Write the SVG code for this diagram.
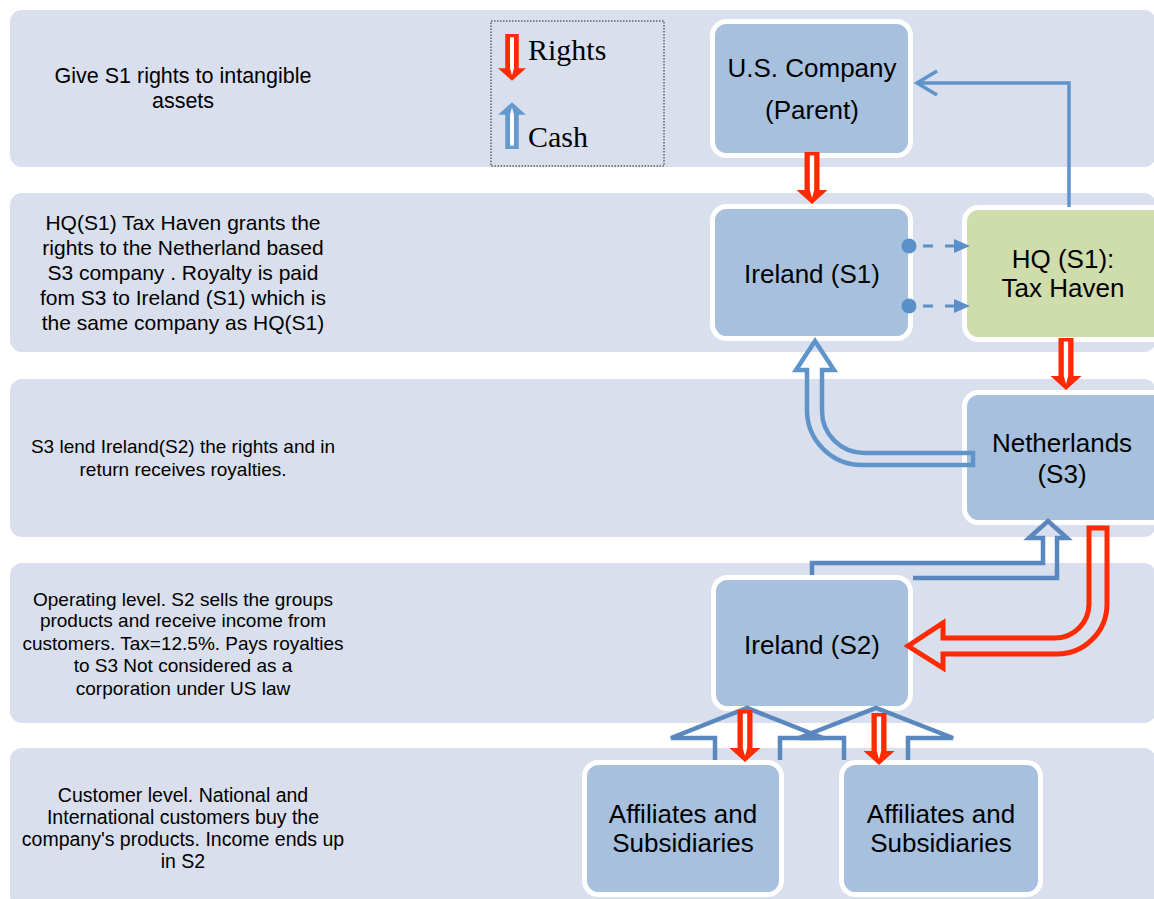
<svg xmlns="http://www.w3.org/2000/svg" width="1154" height="899" viewBox="0 0 1154 899">
  <style>
    .band { fill: #D9DFEC; }
    .band-text { font-family: "Liberation Sans", Arial, sans-serif; fill: #000; text-anchor: middle; }
    .node-box { fill: #A7C0DE; stroke: #FFFFFF; stroke-width: 5; }
    .node-green { fill: #CFDCAB; stroke: #FFFFFF; stroke-width: 5; }
    .node-text { font-family: "Liberation Sans", Arial, sans-serif; font-size: 26px; fill: #000; text-anchor: middle; }
    .legend-text { font-family: "Liberation Serif", "Times New Roman", serif; font-size: 30px; fill: #000; }
    .cash { fill: none; stroke: #5F94CA; stroke-width: 4.5; stroke-linejoin: miter; }
    .cash-low { fill: none; stroke: #5A88BE; stroke-width: 4.5; stroke-linejoin: miter; }
    .royalty { fill: none; stroke: #FF2A00; stroke-width: 5; stroke-linejoin: miter; }
    .link { fill: none; stroke: #5F94CA; stroke-width: 3.5; }
    .dashed { fill: none; stroke: #5B8FC7; stroke-width: 3; stroke-dasharray: 0 14 10 12 10 100; }
  </style>
  <defs>
    <!-- down-pointing "rights" block arrow, 52px long, origin at top centre of the shaft -->
    <g id="rightsArrow">
      <path d="M-7.5,0 H7.5 V38 H15.5 L0,52 L-15.5,38 H-7.5 Z" fill="#FF2A00"/>
      <path d="M-2.2,3.5 H2.2 V38 L0,46 L-2.2,38 Z" fill="#FFFFFF"/>
    </g>
    <!-- same shape in blue for the cash legend -->
    <g id="cashArrow">
      <path d="M-7.5,0 H7.5 V38 H15.5 L0,52 L-15.5,38 H-7.5 Z" fill="#6699CC"/>
      <path d="M-2.2,3.5 H2.2 V38 L0,46 L-2.2,38 Z" fill="#FFFFFF"/>
    </g>
    <marker id="chevron" viewBox="-24 -15 28 30" markerWidth="28" markerHeight="30" refX="0" refY="0" orient="auto" markerUnits="userSpaceOnUse">
      <path d="M-20,-12 L0,0 L-20,12" fill="none" stroke="#5F94CA" stroke-width="3.5"/>
    </marker>
    <marker id="dot" viewBox="-8 -8 16 16" markerWidth="16" markerHeight="16" refX="0" refY="0" orient="auto" markerUnits="userSpaceOnUse">
      <circle cx="0" cy="0" r="7.5" fill="#5B8FC7"/>
    </marker>
    <marker id="tri" viewBox="0 -8 17 16" markerWidth="17" markerHeight="16" refX="0" refY="0" orient="auto" markerUnits="userSpaceOnUse">
      <path d="M0,-7 L16,0 L0,7 Z" fill="#5B8FC7"/>
    </marker>
  </defs>

  <rect width="1154" height="899" fill="#FFFFFF"/>

  <!-- level bands with their descriptions -->
  <g id="band-1">
    <rect class="band" x="10" y="10" width="1146" height="157" rx="12"/>
    <text class="band-text" font-size="21.5" x="183" y="83">Give S1 rights to intangible<tspan x="183" y="108">assets</tspan></text>
  </g>
  <g id="band-2">
    <rect class="band" x="10" y="193" width="1146" height="159" rx="12"/>
    <text class="band-text" font-size="21" x="183" y="230">HQ(S1) Tax Haven grants the<tspan x="183" y="255">rights to the Netherland based</tspan><tspan x="183" y="280">S3 company . Royalty is paid</tspan><tspan x="183" y="305">fom S3 to Ireland (S1) which is</tspan><tspan x="183" y="330">the same company as HQ(S1)</tspan></text>
  </g>
  <g id="band-3">
    <rect class="band" x="10" y="379" width="1146" height="158" rx="12"/>
    <text class="band-text" font-size="19" x="183" y="453">S3 lend Ireland(S2) the rights and in<tspan x="183" y="476">return receives royalties.</tspan></text>
  </g>
  <g id="band-4">
    <rect class="band" x="10" y="563" width="1146" height="160" rx="12"/>
    <text class="band-text" font-size="19" x="183" y="606">Operating level. S2 sells the groups<tspan x="183" y="627">products and receive income from</tspan><tspan x="183" y="650">customers. Tax=12.5%. Pays royalties</tspan><tspan x="183" y="672">to S3 Not considered as a</tspan><tspan x="183" y="695">corporation under US law</tspan></text>
  </g>
  <g id="band-5">
    <rect class="band" x="10" y="748" width="1146" height="160" rx="12"/>
    <text class="band-text" font-size="19.5" x="183" y="802">Customer level. National and<tspan x="183" y="824">International customers buy the</tspan><tspan x="183" y="846">company's products. Income ends up</tspan><tspan x="183" y="868">in S2</tspan></text>
  </g>

  <!-- legend -->
  <g id="legend">
    <rect x="491" y="21" width="173" height="145" fill="none" stroke="#222" stroke-width="1" stroke-dasharray="1.5 1.5"/>
    <use href="#rightsArrow" transform="translate(512,34) scale(0.9)"/>
    <text class="legend-text" x="528" y="60">Rights</text>
    <use href="#cashArrow" transform="translate(512,149) scale(0.9,-0.9)"/>
    <text class="legend-text" x="528" y="147">Cash</text>
  </g>

  <!-- entities -->
  <g id="us-parent">
    <rect class="node-box" x="712.5" y="21.5" width="198" height="134" rx="14"/>
    <text class="node-text" x="812" y="77">U.S. Company</text>
    <text class="node-text" x="812" y="119">(Parent)</text>
  </g>
  <g id="ireland-s1">
    <rect class="node-box" x="712.5" y="206.5" width="198" height="132" rx="14"/>
    <text class="node-text" x="812" y="283">Ireland (S1)</text>
  </g>
  <g id="hq-s1">
    <rect class="node-green" x="964.5" y="207.5" width="220" height="132" rx="14"/>
    <text class="node-text" x="1063" y="268">HQ (S1):</text>
    <text class="node-text" x="1063" y="297">Tax Haven</text>
  </g>
  <g id="netherlands-s3">
    <rect class="node-box" x="964.5" y="392.5" width="220" height="130" rx="14"/>
    <text class="node-text" x="1062" y="452">Netherlands</text>
    <text class="node-text" x="1062" y="483">(S3)</text>
  </g>
  <g id="ireland-s2">
    <rect class="node-box" x="713.5" y="577.5" width="197" height="131" rx="14"/>
    <text class="node-text" x="812" y="654">Ireland (S2)</text>
  </g>
  <g id="affiliates-1">
    <rect class="node-box" x="584.5" y="762.5" width="197" height="132" rx="14"/>
    <text class="node-text" x="683" y="823">Affiliates and</text>
    <text class="node-text" x="683" y="852">Subsidiaries</text>
  </g>
  <g id="affiliates-2">
    <rect class="node-box" x="841.5" y="762.5" width="199" height="132" rx="14"/>
    <text class="node-text" x="941" y="823">Affiliates and</text>
    <text class="node-text" x="941" y="852">Subsidiaries</text>
  </g>

  <!-- flows between entities -->
  <g id="connectors">
    <!-- cash from HQ back to the parent -->
    <path class="link" d="M1069,207 V83 H917" marker-end="url(#chevron)"/>
    <!-- Ireland (S1) linked to HQ (S1) -->
    <path class="dashed" d="M909,246 H954" marker-start="url(#dot)" marker-end="url(#tri)"/>
    <path class="dashed" d="M909,306 H954" marker-start="url(#dot)" marker-end="url(#tri)"/>
    <!-- rights flowing down -->
    <use href="#rightsArrow" x="812" y="152"/>
    <use href="#rightsArrow" x="1066" y="338"/>
    <!-- royalties from the Netherlands to Ireland (S1) -->
    <path class="cash" d="M973,453 H864 A42,42 0 0 1 822,411 V370 H834 L815,341 L796,370 H807 V410 A55,55 0 0 0 862,465 H973 Z"/>
    <!-- royalties from Ireland (S2) to the Netherlands -->
    <path class="cash-low" d="M812,575 V563 H1043 V538 H1029 L1048,521 L1067,538 H1057 V578 H913"/>
    <!-- rights lent from the Netherlands to Ireland (S2) -->
    <path class="royalty" d="M1089,528 H1107 V604 A50,50 0 0 1 1057,654 H943 V668 L908,646 L943,623 V638 H1055 A34,34 0 0 0 1089,604 Z"/>
    <!-- income from affiliates up to Ireland (S2) -->
    <path class="cash-low" d="M715,760 V738 H671 L747,708 L823,738 H780 V760"/>
    <path class="cash-low" d="M844,760 V738 H799 L876,708 L953,738 H908 V760"/>
    <!-- rights down to the affiliates -->
    <use href="#rightsArrow" x="745" y="710"/>
    <use href="#rightsArrow" x="879" y="713"/>
  </g>
</svg>
